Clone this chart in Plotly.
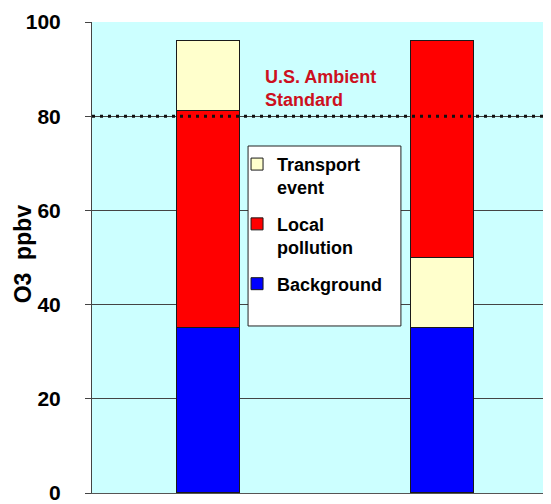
import plotly.graph_objects as go

categories = ["Transport event day", "Local pollution day"]
background = [35, 35]
transport_low = [None, 15]
local_pollution = [46, 46]
transport_high = [15, None]
standard_ppbv = 80
y_ticks = [0, 20, 40, 60, 80, 100]

FONT = "Liberation Sans, Arial, sans-serif"
edge = dict(color="#1a1a1a", width=1)
W = 0.27

fig = go.Figure()
fig.add_bar(x=categories, y=background, name="Background", legendgroup="bg", legendrank=3,
            marker=dict(color="#0000FF", line=edge), width=W)
fig.add_bar(x=categories, y=transport_low, name="Transport event", legendgroup="tr", showlegend=False,
            legendrank=1, marker=dict(color="#FFFFCC", line=edge), width=W)
fig.add_bar(x=categories, y=local_pollution, name="Local<br>pollution", legendgroup="lp", legendrank=2,
            marker=dict(color="#FF0000", line=edge), width=W)
fig.add_bar(x=categories, y=transport_high, name="Transport<br>event", legendgroup="tr", legendrank=1,
            marker=dict(color="#FFFFCC", line=edge), width=W)

# legend box
fig.add_shape(type="rect", xref="paper", yref="paper", x0=0.340, x1=0.673, y0=0.3546, y1=0.7367,
              fillcolor="white", line=dict(color="#222", width=1), layer="above")
# standard line
fig.add_shape(type="line", xref="paper", yref="y", x0=0, x1=1, y0=standard_ppbv, y1=standard_ppbv,
              line=dict(color="#111", width=3, dash="3px,5px"), layer="above")

fig.add_annotation(text="U.S. Ambient<br>Standard", xref="paper", yref="y", x=0.372, y=85.9,
                   xanchor="left", yanchor="middle", align="left", showarrow=False,
                   font=dict(family=FONT, size=18, color="#CC1020", weight="bold"))

# y-axis title
fig.add_annotation(text="O3  ppbv", xref="paper", yref="paper", x=-0.150, y=0.507,
                   xanchor="center", yanchor="middle", textangle=-90, showarrow=False,
                   font=dict(family=FONT, size=23, color="black", weight="bold"))

fig.update_layout(
    width=551, height=504,
    margin=dict(l=84, r=8, t=14, b=19, autoexpand=False),
    paper_bgcolor="white", plot_bgcolor="#CCFFFF",
    barmode="stack", bargap=0,
    showlegend=True,
    legend=dict(x=0.316, y=0.737, xanchor="left", yanchor="top", traceorder="grouped",
                tracegroupgap=10, bgcolor="rgba(0,0,0,0)", borderwidth=0, valign="top",
                font=dict(family=FONT, size=18, color="black", weight="bold")),
    xaxis=dict(range=[-0.5, 1.466], showticklabels=False, ticks="", showgrid=False, automargin=False,
               showline=True, linecolor="#555", linewidth=1, zeroline=False),
    yaxis=dict(range=[0, 100], tickvals=y_ticks, ticks="outside", ticklen=6, tickcolor="#444",
               showgrid=True, gridcolor="#444", gridwidth=1, zeroline=False, automargin=False,
               showline=True, linecolor="#444", linewidth=1, ticklabelstandoff=20,
               tickfont=dict(family=FONT, size=21, color="black", weight="bold")),
)

fig.write_html("out.html")
